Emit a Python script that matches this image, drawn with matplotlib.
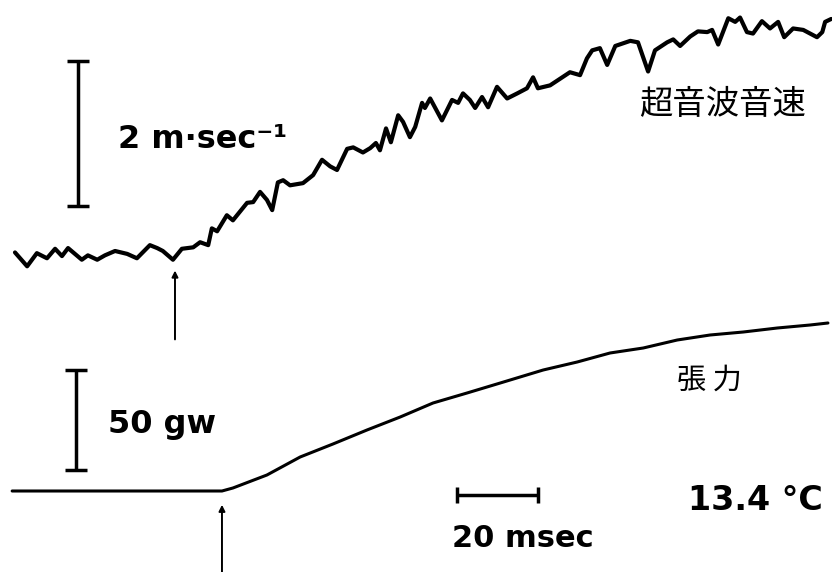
import numpy as np
import matplotlib.pyplot as plt

# time axis (ms), shared by both traces
t_speed = [3.7, 6.7, 9.1, 11.6, 13.6, 15.3, 16.8, 20.2, 21.7, 24.0, 25.9, 28.4, 31.4, 33.8,
           37.0, 38.8, 40.2, 42.7, 44.9, 47.7, 49.4, 51.4, 52.3, 53.6, 56.0, 57.5, 61.0,
           62.5, 64.2, 65.9, 67.2, 68.6, 69.9, 71.6, 74.8, 77.3, 79.5, 81.5, 83.2, 85.7,
           87.2, 89.6, 91.4, 92.8, 93.8, 95.3, 96.5, 98.3, 99.5, 101.2, 102.5, 104.2,
           104.9, 106.2, 109.1, 111.6, 113.1, 114.3, 116.0, 117.3, 119.0, 120.5, 122.7,
           125.2, 127.7, 130.1, 131.6, 132.8, 135.8, 138.8, 140.7, 143.2, 144.9, 146.2,
           148.1, 149.9, 151.9, 155.6, 157.5, 160.0, 161.7, 164.7, 166.2, 167.9, 170.4,
           172.3, 174.6, 175.8, 177.3, 179.8, 181.5, 182.7, 184.4, 185.9, 188.1, 190.1,
           192.1, 193.6, 195.8, 198.3, 200.0, 201.7, 203.0, 203.7, 205.2]
# change of ultrasonic sound velocity (m/sec)
speed = [0.05, -0.14, 0.04, -0.03, 0.10, 0.00, 0.11, -0.05, 0.01, -0.05, 0.01, 0.07, 0.03,
         -0.03, 0.15, 0.11, 0.07, -0.05, 0.10, 0.12, 0.19, 0.15, 0.38, 0.34, 0.56, 0.49,
         0.73, 0.74, 0.88, 0.77, 0.63, 1.01, 1.04, 0.97, 1.00, 1.11, 1.32, 1.23, 1.18,
         1.47, 1.49, 1.42, 1.48, 1.55, 1.45, 1.75, 1.56, 1.93, 1.84, 1.63, 1.77, 2.10,
         2.03, 2.16, 1.86, 2.14, 2.10, 2.23, 2.14, 2.03, 2.18, 2.04, 2.32, 2.16, 2.23,
         2.30, 2.45, 2.30, 2.34, 2.45, 2.52, 2.48, 2.71, 2.82, 2.85, 2.62, 2.88, 2.95,
         2.93, 2.53, 2.82, 2.93, 2.97, 2.88, 3.01, 3.08, 3.07, 3.10, 2.90, 3.26, 3.21,
         3.27, 3.07, 3.05, 3.22, 3.12, 3.21, 3.00, 3.12, 3.10, 3.05, 3.00, 3.07, 3.21, 3.25]

t_tension = [3.0, 54.8, 57.5, 65.9, 74.1, 82.2, 90.6, 98.8, 106.9, 115.3, 123.5, 134.1,
             142.5, 150.6, 158.8, 167.2, 175.3, 183.5, 191.9, 200.0, 204.4]
# tension (gw)
tension = [0, 0, 1.5, 8, 17, 23.5, 30.5, 37, 44, 49, 54, 60.5, 64.5, 69, 71.5, 75.5,
           78, 79.5, 81.5, 83, 84]

fig = plt.figure(figsize=(8.32, 5.72), dpi=100)
ax_v = fig.add_axes([0, 0, 1, 1])
ax_f = fig.add_axes([0, 0, 1, 1])
ax_f.patch.set_alpha(0)
for ax in (ax_v, ax_f):
    ax.set_xlim(0, 205.4)
    ax.axis("off")
ax_v.set_ylim(-4.33, 3.51)
ax_f.set_ylim(-40.5, 245.5)

ax_v.plot(t_speed, speed, color="black", lw=3.0, solid_joinstyle="round", solid_capstyle="round")
ax_f.plot(t_tension, tension, color="black", lw=2.2, solid_capstyle="round")

# calibration bars
ax_v.errorbar(19.3, 1.68, yerr=1.0, color="black", elinewidth=2.5, capsize=8, capthick=2.5)
ax_f.errorbar(18.8, 35.5, yerr=25, color="black", elinewidth=2.5, capsize=8, capthick=2.5)
ax_f.errorbar(122.8, -2, xerr=10, color="black", elinewidth=2.5, capsize=6, capthick=2.5)

# stimulus arrows
ax_v.annotate("", xy=(43.2, -0.16), xytext=(43.2, -1.18),
              arrowprops=dict(arrowstyle="-|>", lw=1.4, color="black", mutation_scale=9))
ax_f.annotate("", xy=(54.8, -5.5), xytext=(54.8, -42),
              arrowprops=dict(arrowstyle="-|>", lw=1.4, color="black", mutation_scale=9))

fig.text(0.142, 0.741, "2 m·sec⁻¹", fontsize=23, fontweight="bold", va="baseline")
fig.text(0.130, 0.243, "50 gw", fontsize=23, fontweight="bold", va="baseline")
fig.text(0.543, 0.044, "20 msec", fontsize=22, fontweight="bold", va="baseline")
fig.text(0.827, 0.108, "13.4 °C", fontsize=24, fontweight="bold", va="baseline")
fig.text(0.868, 0.818, "超音波音速", fontsize=24, ha="center", va="center",
         family=["Noto Sans CJK JP", "DejaVu Sans"])
fig.text(0.853, 0.334, "張 力", fontsize=21, ha="center", va="center",
         family=["Noto Sans CJK JP", "DejaVu Sans"])

fig.savefig("out.png", dpi=100)
